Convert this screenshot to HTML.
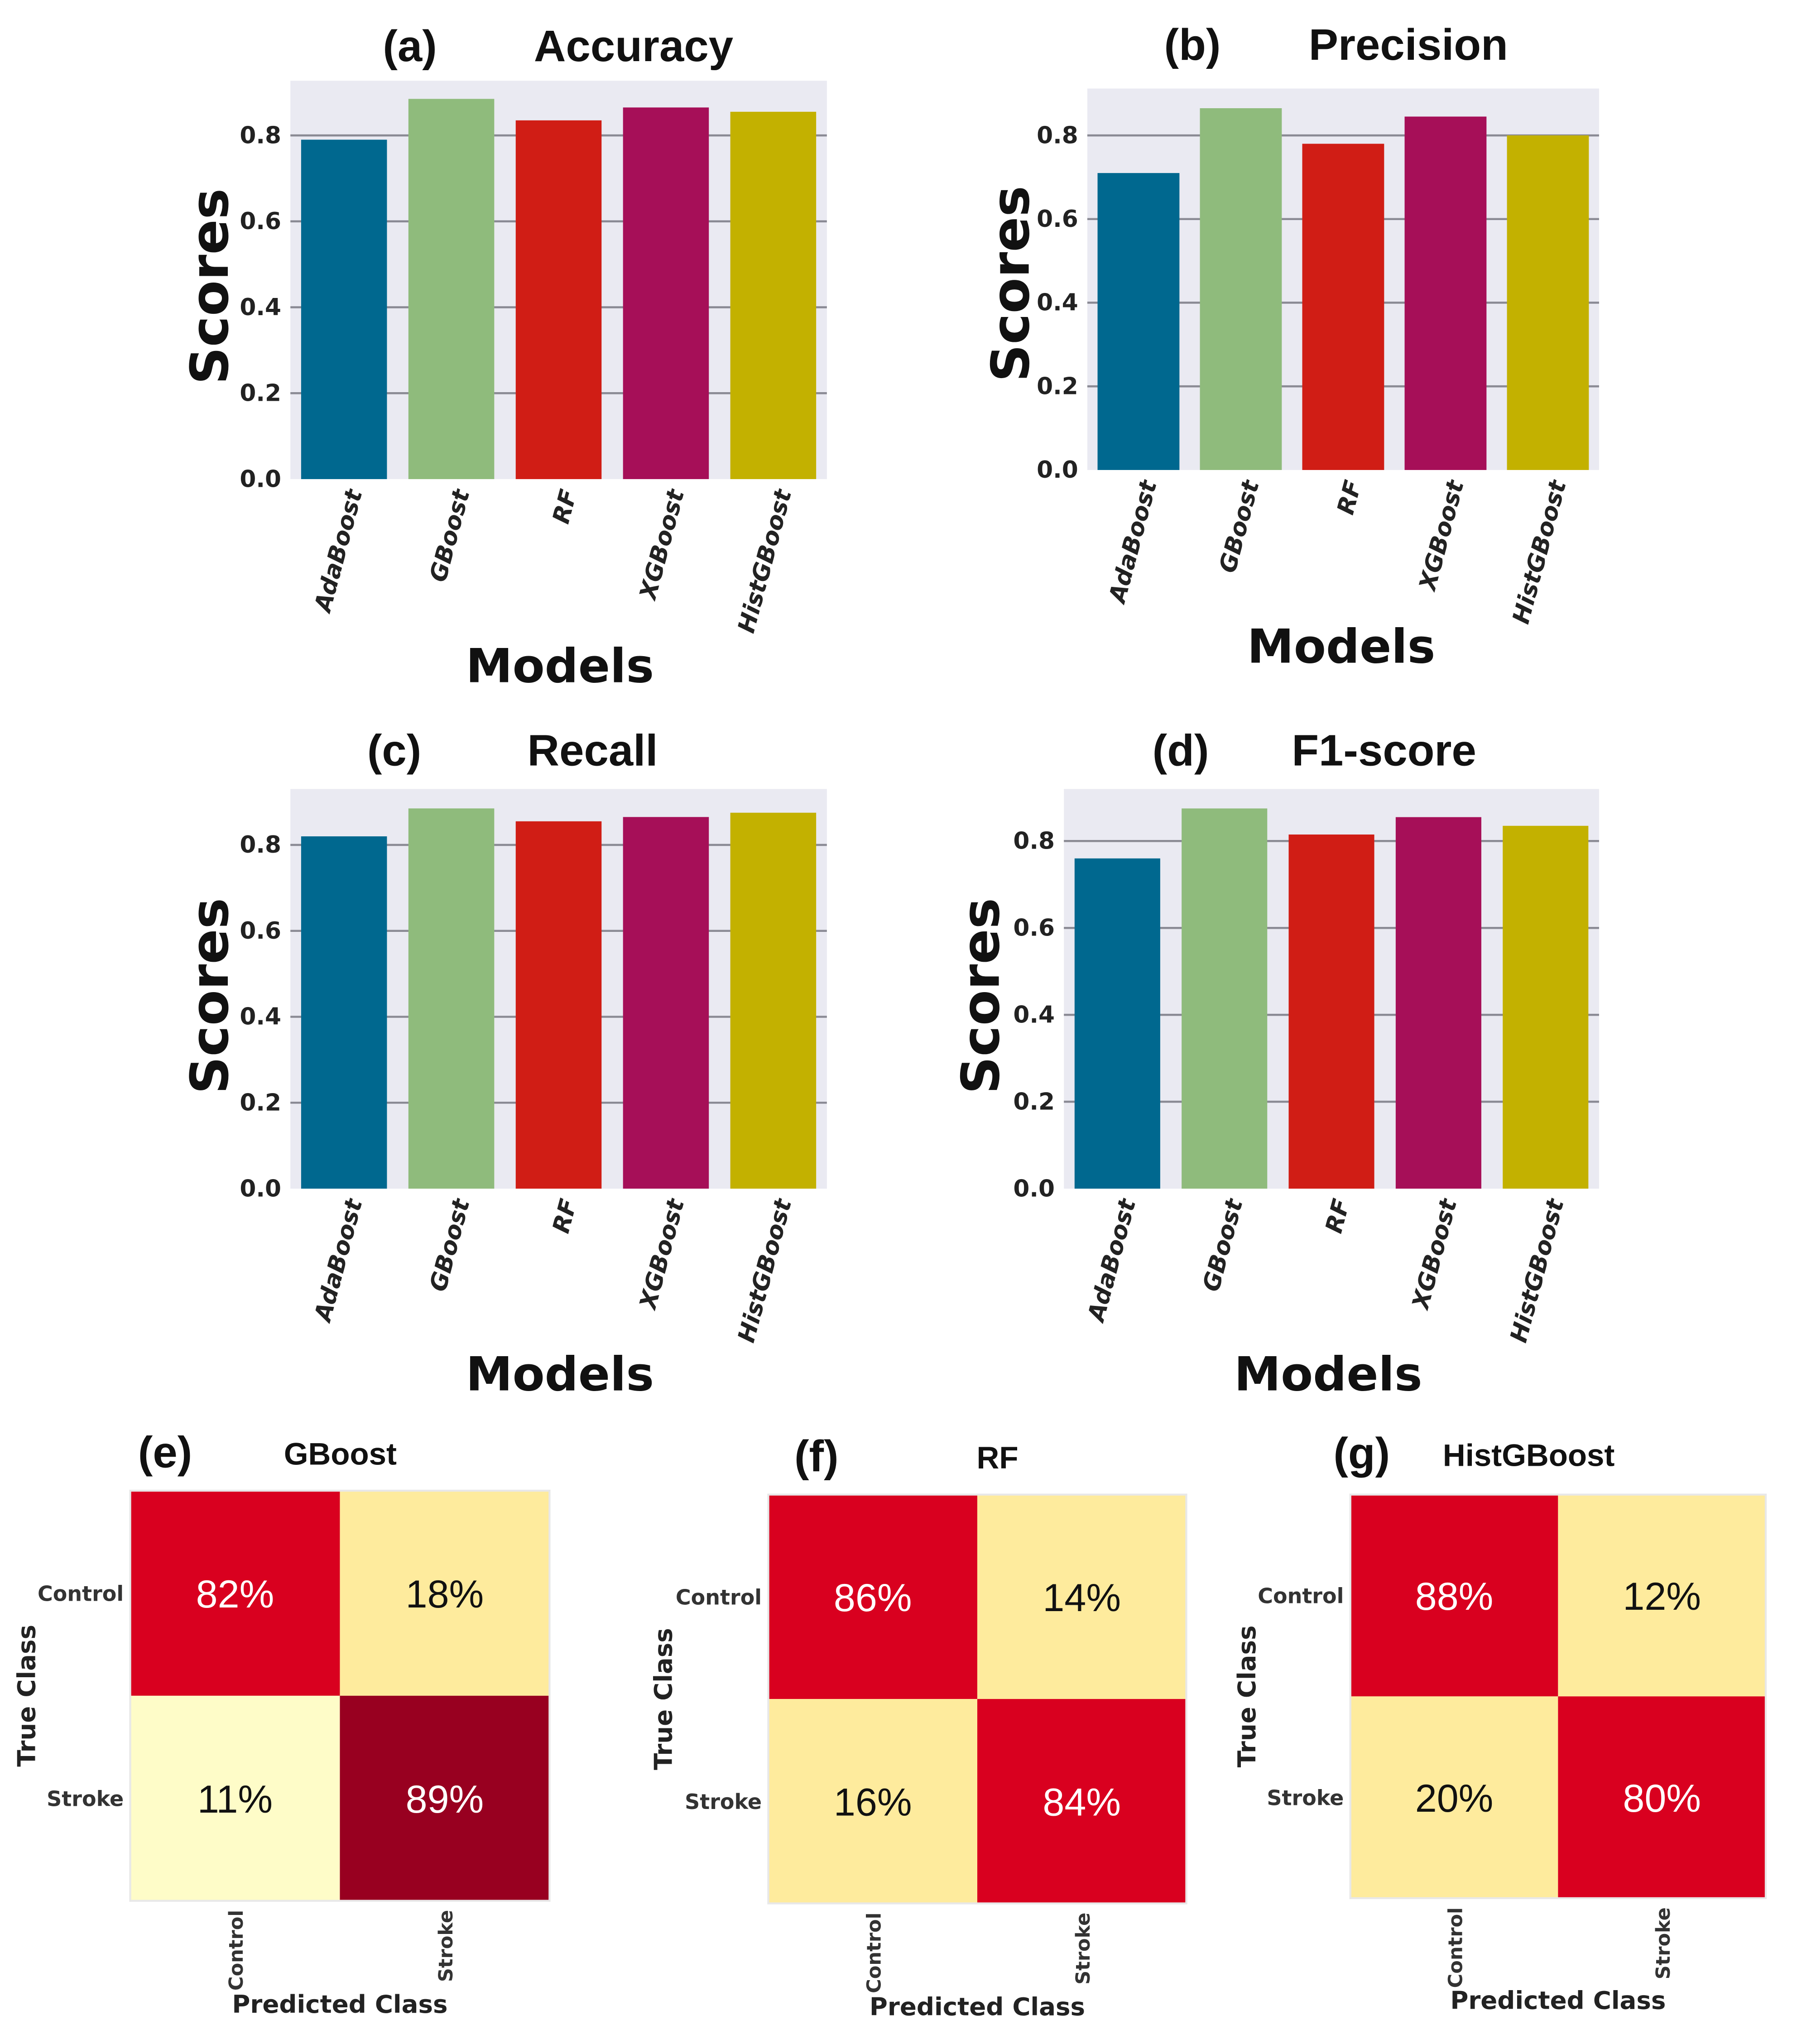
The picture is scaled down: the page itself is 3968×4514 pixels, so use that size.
<!DOCTYPE html>
<html><head><meta charset="utf-8"><style>
html,body{margin:0;padding:0;background:#fff;}
svg{display:block;}
</style></head><body>
<svg id="fig" xmlns="http://www.w3.org/2000/svg" width="3968" height="4514" viewBox="0 0 1380 1570" preserveAspectRatio="none">
<rect width="1380" height="1570" fill="#fff"/>
</svg>
<script>
const models = ["AdaBoost","GBoost","RF","XGBoost","HistGBoost"];
const barColors = ["#00688f","#8fbb7c","#d01d15","#a60f58","#c3b100"];
const accuracy = [0.79,0.885,0.835,0.865,0.855];
const precision = [0.71,0.865,0.78,0.845,0.80];
const recall = [0.82,0.885,0.855,0.865,0.875];
const f1score = [0.76,0.875,0.815,0.855,0.835];
const yTicks = [0.0,0.2,0.4,0.6,0.8];
const yTickLabels = ["0.0","0.2","0.4","0.6","0.8"];
const cmClasses = ["Control","Stroke"];
const cmGBoost = [[82,18],[11,89]];
const cmRF = [[86,14],[16,84]];
const cmHist = [[88,12],[20,80]];

const NS="http://www.w3.org/2000/svg";
const svg=document.getElementById('fig');
function el(tag,attrs,parent,txt){const e=document.createElementNS(NS,tag);for(const k in attrs)e.setAttribute(k,attrs[k]);if(txt!==undefined)e.textContent=txt;(parent||svg).appendChild(e);return e;}
const TF='"DejaVu Sans","Liberation Sans",sans-serif';
const HF='"Liberation Sans","DejaVu Sans",sans-serif';

function barChart(cfg){
  const g=el('g',{});
  
  
  const {x0,x1,yTop,y0,y08}=cfg;
  const ys=v=>y0-(y0-y08)*v/0.8;
  const band=(x1-x0)/models.length;
  const xs=i=>x0+band*(i+0.5);
  const bg=el('rect',{x:x0,y:yTop,width:x1-x0,height:y0-yTop,fill:'#eaeaf2'},g);
  
  
  yTicks.forEach((t,i)=>{
    if(t>0){const gl=el('line',{x1:x0,x2:x1,y1:ys(t),y2:ys(t),stroke:'#8a8a94','stroke-width':1.6},g);
      
      }
    const tl=el('text',{x:x0-7,y:ys(t)+6,'text-anchor':'end','font-family':TF,'font-weight':'bold','font-size':18,fill:'#222'},g,yTickLabels[i]);
    
    
  });
  cfg.values.forEach((v,i)=>{
    const bw=band*0.8;
    const b=el('rect',{x:xs(i)-bw/2,y:ys(v),width:bw,height:y0-ys(v),fill:barColors[i]},g);
    
    
    const lx=xs(i)+14,ly=y0+10;
    const t=el('text',{x:lx,y:ly,'text-anchor':'end','font-family':TF,'font-weight':'bold','font-style':'italic','font-size':18,fill:'#222',transform:`rotate(-75 ${lx} ${ly})`},g,models[i]);
    
    
  });
  const yl=el('text',{x:cfg.ylx,y:cfg.yly,'text-anchor':'middle','font-family':TF,'font-weight':'bold','font-size':40,fill:'#111',transform:`rotate(-90 ${cfg.ylx} ${cfg.yly})`},g,'Scores');
  
  
  const xl=el('text',{x:cfg.xlx,y:cfg.xly,'text-anchor':'middle','font-family':TF,'font-weight':'bold','font-size':36,fill:'#111'},g,'Models');
  
  
  const pl=el('text',{x:cfg.plx,y:cfg.ty,'font-family':HF,'font-weight':'bold','font-size':34,fill:'#111'},g,cfg.panel);
  
  
  const tt=el('text',{x:cfg.ttx,y:cfg.ty,'font-family':HF,'font-weight':'bold','font-size':34,fill:'#111'},g,cfg.title);
  
  
}
barChart({name:'accuracy-chart',values:accuracy,x0:223,x1:635,yTop:62,y0:368,y08:104,ylx:175,yly:220,xlx:430,xly:524,plx:294,ttx:410,ty:47,panel:'(a)',title:'Accuracy'});
barChart({name:'precision-chart',values:precision,x0:835,x1:1228,yTop:68,y0:361,y08:104,ylx:790,yly:218,xlx:1030,xly:509,plx:894,ttx:1005,ty:46,panel:'(b)',title:'Precision'});
barChart({name:'recall-chart',values:recall,x0:223,x1:635,yTop:606,y0:913,y08:649,ylx:175,yly:765,xlx:430,xly:1068,plx:282,ttx:405,ty:588,panel:'(c)',title:'Recall'});
barChart({name:'f1-score-chart',values:f1score,x0:817,x1:1228,yTop:606,y0:913,y08:646,ylx:767,yly:765,xlx:1020,xly:1068,plx:885,ttx:992,ty:588,panel:'(d)',title:'F1-score'});

function cellColor(v,dark){
  if(v>=89&&dark) return '#980020';
  if(v>=50) return '#d9001f';
  if(v<=11) return '#fefcc8';
  return '#feeb9d';
}
function confMatrix(cfg){
  const g=el('g',{});
  
  
  const {x0,x1,y0,y1}=cfg;
  const cw=(x1-x0)/2,ch=(y1-y0)/2;
  cfg.data.forEach((row,r)=>row.forEach((v,c)=>{
    const fill=cellColor(v,cfg.dark);
    const rc=el('rect',{x:x0+c*cw,y:y0+r*ch,width:cw,height:ch,fill:fill},g);
    
    
    const t=el('text',{x:x0+(c+0.5)*cw,y:y0+(r+0.5)*ch+11,'text-anchor':'middle','font-family':HF,'font-size':30,fill:v>=50?'#fff':'#111'},g,v+'%');
    
    
  }));
  el('rect',{x:x0,y:y0,width:x1-x0,height:y1-y0,fill:'none',stroke:'#e8e8e8','stroke-width':1.5},g);
  cmClasses.forEach((c,i)=>{
    const yt=el('text',{x:x0-5,y:y0+(i+0.5)*ch+6,'text-anchor':'end','font-family':TF,'font-weight':'bold','font-size':16,fill:'#333'},g,c);
    
    
    const lx=x0+(i+0.5)*cw+6,ly=y1+7;
    const xt=el('text',{x:lx,y:ly,'text-anchor':'end','font-family':TF,'font-weight':'bold','font-size':15,fill:'#333',transform:`rotate(-90 ${lx} ${ly})`},g,c);
    
    
  });
  const yl=el('text',{x:cfg.ylx,y:(y0+y1)/2,'text-anchor':'middle','font-family':TF,'font-weight':'bold','font-size':19,fill:'#222',transform:`rotate(-90 ${cfg.ylx} ${(y0+y1)/2})`},g,'True Class');
  
  
  const xl=el('text',{x:(x0+x1)/2,y:cfg.xly,'text-anchor':'middle','font-family':TF,'font-weight':'bold','font-size':19,fill:'#222'},g,'Predicted Class');
  
  
  const pl=el('text',{x:cfg.plx,y:cfg.ty+2,'font-family':HF,'font-weight':'bold','font-size':34,fill:'#111'},g,cfg.panel);
  
  
  const tt=el('text',{x:cfg.ttx,y:cfg.ty,'font-family':HF,'font-weight':'bold','font-size':24,fill:'#111'},g,cfg.title);
  
  
}
confMatrix({name:'confusion-matrix-gboost',data:cmGBoost,dark:true,x0:100,x1:422,y0:1145,y1:1460,ylx:27,xly:1546,plx:106,ttx:218,ty:1125,panel:'(e)',title:'GBoost'});
confMatrix({name:'confusion-matrix-rf',data:cmRF,dark:false,x0:590,x1:911,y0:1148,y1:1462,ylx:516,xly:1548,plx:610,ttx:750,ty:1128,panel:'(f)',title:'RF'});
confMatrix({name:'confusion-matrix-histgboost',data:cmHist,dark:false,x0:1037,x1:1356,y0:1148,y1:1458,ylx:964,xly:1543,plx:1024,ttx:1108,ty:1126,panel:'(g)',title:'HistGBoost'});
</script>
</body></html>
